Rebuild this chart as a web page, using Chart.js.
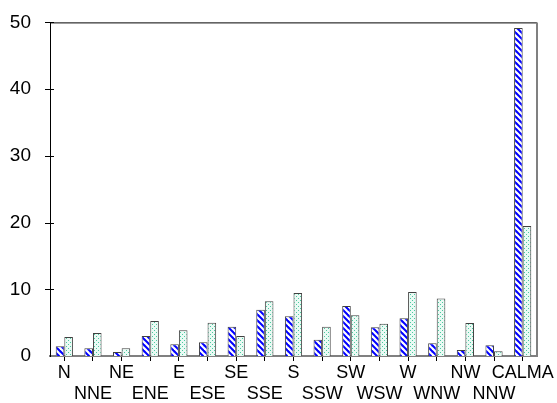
<!DOCTYPE html>
<html>
<head>
<meta charset="utf-8">
<script src="https://cdn.jsdelivr.net/npm/chart.js@4/dist/chart.umd.min.js"></script>
<style>
html,body{margin:0;padding:0;background:#fff;}
canvas{display:block;}
</style>
</head>
<body>
<canvas id="c" width="557" height="403"></canvas>
<script>
const categories = ['N','NNE','NE','ENE','E','ESE','SE','SSE','S','SSW','SW','WSW','W','WNW','NW','NNW','CALMA'];
const seriesA = [1.45, 1.15, 0.6, 3.0, 1.75, 2.05, 4.4, 6.95, 5.95, 2.45, 7.5, 4.3, 5.65, 1.9, 0.9, 1.6, 49.15];
const seriesB = [2.85, 3.45, 1.15, 5.25, 3.85, 5.0, 3.0, 8.2, 9.45, 4.4, 6.1, 4.85, 9.6, 8.6, 4.95, 0.7, 19.5];
const yTicks = [0, 10, 20, 30, 40, 50];

function stripePattern() {
  const s = 6;
  const c = document.createElement('canvas');
  c.width = s; c.height = s;
  const g = c.getContext('2d');
  g.fillStyle = '#0000ff';
  g.fillRect(0, 0, s, s);
  g.strokeStyle = '#ffffff';
  g.lineWidth = 2.2;
  for (const x of [-s, 0, s]) {
    g.beginPath();
    g.moveTo(x - 1, -1);
    g.lineTo(x + s + 1, s + 1);
    g.stroke();
  }
  return g.createPattern(c, 'repeat');
}
function dotPattern() {
  const c = document.createElement('canvas');
  c.width = 4; c.height = 4;
  const g = c.getContext('2d');
  g.fillStyle = '#eafaf4';
  g.fillRect(0, 0, 4, 4);
  g.fillStyle = '#4cc9a0';
  g.fillRect(0, 0, 1, 1);
  g.fillRect(2, 2, 1, 1);
  return g.createPattern(c, 'repeat');
}

const framePlugin = {
  id: 'frame',
  afterDraw(chart) {
    const ctx = chart.ctx;
    const a = chart.chartArea;
    const y = chart.scales.y;
    ctx.save();
    ctx.strokeStyle = '#000';
    ctx.lineWidth = 1;
    ctx.beginPath();
    ctx.moveTo(a.left, a.top + 0.5);
    ctx.lineTo(a.right, a.top + 0.5);
    ctx.stroke();
    ctx.strokeStyle = '#808080';
    ctx.lineWidth = 2;
    ctx.beginPath();
    ctx.moveTo(a.right, a.top);
    ctx.lineTo(a.right, a.bottom);
    ctx.stroke();
    ctx.strokeStyle = '#000';
    ctx.lineWidth = 1;
    for (const v of yTicks) {
      if (v === 0) continue;
      const py = Math.round(y.getPixelForValue(v)) + 0.5;
      ctx.beginPath();
      ctx.moveTo(a.left - 5, py);
      ctx.lineTo(a.left + 4, py);
      ctx.stroke();
    }
    ctx.restore();
  }
};

const ctx = document.getElementById('c').getContext('2d');
new Chart(ctx, {
  type: 'bar',
  data: {
    labels: categories,
    datasets: [
      { data: seriesA, backgroundColor: stripePattern(), borderColor: '#404040', borderWidth: {left:1, top:1, right:1, bottom:0} },
      { data: seriesB, backgroundColor: dotPattern(), borderColor: '#404040', borderWidth: {left:1, top:1, right:1, bottom:0} }
    ]
  },
  options: {
    responsive: false,
    animation: false,
    devicePixelRatio: 1,
    layout: { padding: { top: 17, right: 20, left: 0, bottom: 0 } },
    plugins: { legend: { display: false }, tooltip: { enabled: false } },
    datasets: { bar: { categoryPercentage: 0.6, barPercentage: 1.0 } },
    scales: {
      x: {
        grid: { offset: false, drawOnChartArea: false, tickLength: 5, color: '#000', tickWidth: 1 },
        border: { display: true, color: '#808080', width: 2 },
        ticks: {
          autoSkip: false, maxRotation: 0, minRotation: 0, padding: 1,
          color: '#000',
          font: { family: '"Liberation Sans", Arial, sans-serif', size: 18, lineHeight: 1.2 },
          callback: function(val, i) { const l = categories[i]; return i % 2 ? ['', l] : l; }
        },
        afterFit(s) { s.height = 47; }
      },
      y: {
        min: 0, max: 50,
        grid: { display: false },
        border: { display: true, color: '#000', width: 1 },
        ticks: {
          stepSize: 10, padding: 11, color: '#000',
          font: { family: '"Liberation Sans", Arial, sans-serif', size: 19 }
        },
        afterFit(s) { s.width = 50; }
      }
    }
  },
  plugins: [framePlugin]
});
</script>
</body>
</html>
